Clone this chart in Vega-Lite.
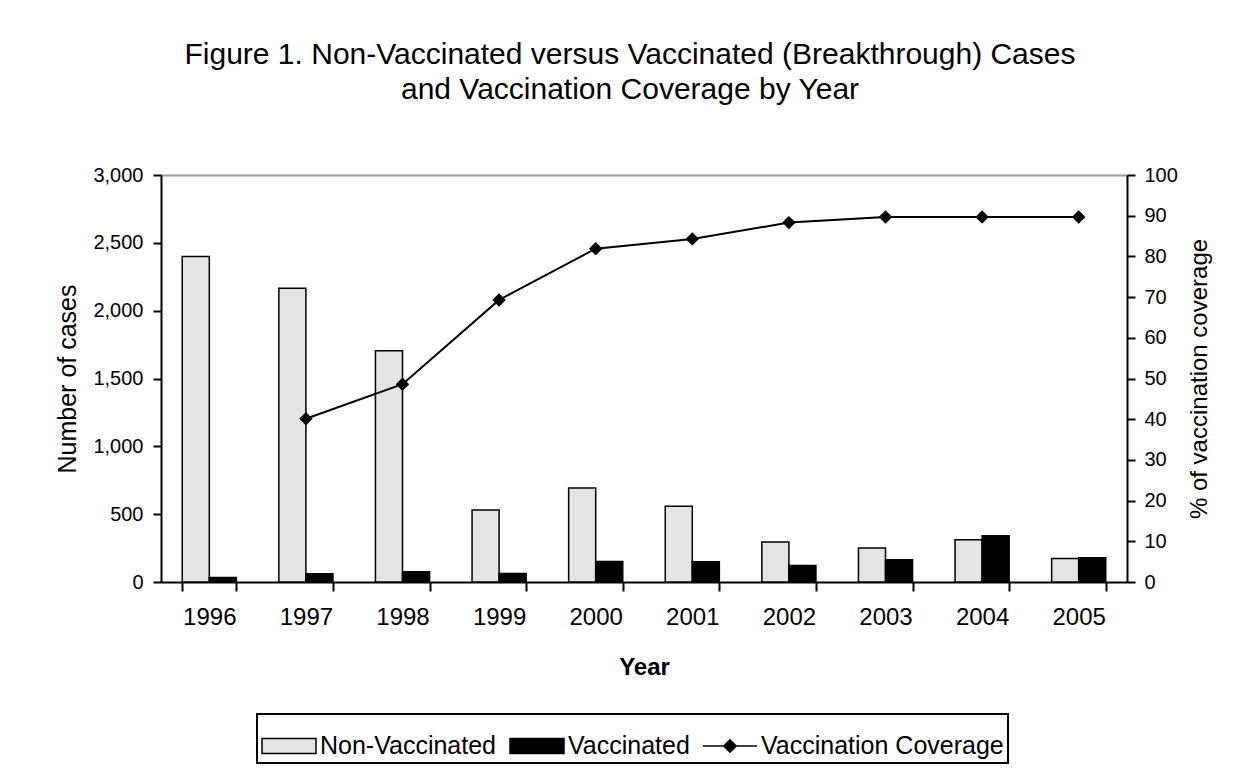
{
  "$schema": "https://vega.github.io/schema/vega-lite/v6.json",
  "width": 966,
  "height": 407,
  "autosize": "none",
  "padding": {"left": 161, "top": 175, "right": 129, "bottom": 191},
  "background": "white",
  "config": {
    "font": "Liberation Sans",
    "view": {"stroke": null},
    "legend": {"strokeColor": "black", "strokeWidth": 2}
  },
  "title": {
    "text": ["Figure 1. Non-Vaccinated versus Vaccinated (Breakthrough) Cases", "and Vaccination Coverage by Year"],
    "font": "Liberation Sans",
    "fontSize": 30,
    "fontWeight": "normal",
    "color": "black",
    "anchor": "middle",
    "dx": -14,
    "offset": 60,
    "lineHeight": 35
  },
  "datasets": {
    "bars": [
      {"year": "1996", "series": "Non-Vaccinated", "cases": 2400},
      {"year": "1996", "series": "Vaccinated", "cases": 33},
      {"year": "1997", "series": "Non-Vaccinated", "cases": 2165},
      {"year": "1997", "series": "Vaccinated", "cases": 61},
      {"year": "1998", "series": "Non-Vaccinated", "cases": 1705},
      {"year": "1998", "series": "Vaccinated", "cases": 76},
      {"year": "1999", "series": "Non-Vaccinated", "cases": 530},
      {"year": "1999", "series": "Vaccinated", "cases": 63},
      {"year": "2000", "series": "Non-Vaccinated", "cases": 692},
      {"year": "2000", "series": "Vaccinated", "cases": 152},
      {"year": "2001", "series": "Non-Vaccinated", "cases": 559},
      {"year": "2001", "series": "Vaccinated", "cases": 150},
      {"year": "2002", "series": "Non-Vaccinated", "cases": 294},
      {"year": "2002", "series": "Vaccinated", "cases": 122},
      {"year": "2003", "series": "Non-Vaccinated", "cases": 250},
      {"year": "2003", "series": "Vaccinated", "cases": 164},
      {"year": "2004", "series": "Non-Vaccinated", "cases": 311},
      {"year": "2004", "series": "Vaccinated", "cases": 341},
      {"year": "2005", "series": "Non-Vaccinated", "cases": 174},
      {"year": "2005", "series": "Vaccinated", "cases": 179}
    ],
    "coverage": [
      {"year": "1997", "coverage": 40.1},
      {"year": "1998", "coverage": 48.6},
      {"year": "1999", "coverage": 69.3},
      {"year": "2000", "coverage": 81.9},
      {"year": "2001", "coverage": 84.3},
      {"year": "2002", "coverage": 88.3},
      {"year": "2003", "coverage": 89.7},
      {"year": "2004", "coverage": 89.7},
      {"year": "2005", "coverage": 89.7}
    ]
  },
  "layer": [
    {
      "data": {"name": "bars"},
      "mark": {"type": "bar", "stroke": "black", "strokeWidth": 1.5},
      "encoding": {
        "x": {
          "field": "year",
          "type": "ordinal",
          "scale": {"domain": ["1996","1997","1998","1999","2000","2001","2002","2003","2004","2005"], "paddingInner": 0.44, "paddingOuter": 0.22},
          "axis": {
            "title": "Year",
            "titleFontSize": 24,
            "titleFontWeight": "bold",
            "titleColor": "black",
            "titlePadding": 26,
            "labelAngle": 0,
            "labelFontSize": 24,
            "labelColor": "black",
            "labelPadding": 14,
            "domainColor": "black",
            "domainWidth": 2,
            "tickColor": "black",
            "tickWidth": 2,
            "tickSize": 9,
            "tickBand": "extent"
          }
        },
        "xOffset": {"field": "series", "scale": {"domain": ["Non-Vaccinated", "Vaccinated"], "paddingInner": 0, "paddingOuter": 0}},
        "y": {
          "field": "cases",
          "type": "quantitative",
          "scale": {"domain": [0, 3000], "nice": false},
          "axis": {
            "title": "Number of cases",
            "titleFontSize": 25,
            "titleFontWeight": "normal",
            "titleColor": "black",
            "titlePadding": 12,
            "values": [0, 500, 1000, 1500, 2000, 2500, 3000],
            "format": ",.0f",
            "labelFontSize": 20,
            "labelColor": "black",
            "labelPadding": 10,
            "domainColor": "black",
            "domainWidth": 2,
            "tickColor": "black",
            "tickWidth": 2,
            "tickSize": 8,
            "grid": true,
            "gridColor": "#9a9a9a",
            "gridWidth": 2,
            "gridOpacity": {"condition": {"test": "datum.value == 3000", "value": 1}, "value": 0}
          }
        },
        "color": {
          "field": "series",
          "type": "nominal",
          "scale": {"domain": ["Non-Vaccinated", "Vaccinated", "Vaccination Coverage"], "range": ["#e4e4e4", "#000000", "#000000"]},
          "legend": {
            "title": null,
            "orient": "none",
            "direction": "horizontal",
            "legendX": 96,
            "legendY": 539,
            "labelFontSize": 25,
            "labelColor": "black",
            "labelLimit": 500,
            "labelOffset": 3,
            "columnPadding": 10,
            "padding": 4,
            "symbolSize": 2916,
            "symbolStrokeColor": "black",
            "symbolStrokeWidth": 1.5,
            "symbolOpacity": 1,
            "encode": {
              "symbols": {
                "update": {
                  "shape": {"signal": "datum.value === 'Vaccination Coverage' ? 'M-1,0H1M-0.23,0L0,-0.23L0.23,0L0,0.23Z' : 'M-1,-0.28H1V0.28H-1Z'"}
                }
              }
            }
          }
        }
      }
    },
    {
      "data": {"name": "coverage"},
      "mark": {"type": "line", "color": "black", "strokeWidth": 2, "point": {"shape": "diamond", "filled": true, "size": 180, "color": "black", "opacity": 1}},
      "encoding": {
        "x": {"field": "year", "type": "ordinal"},
        "y": {
          "field": "coverage",
          "type": "quantitative",
          "scale": {"domain": [0, 100], "nice": false},
          "axis": {
            "orient": "right",
            "title": "% of vaccination coverage",
            "titleAngle": -90,
            "titleFontSize": 24,
            "titleFontWeight": "normal",
            "titleColor": "black",
            "titlePadding": 34,
            "values": [0, 10, 20, 30, 40, 50, 60, 70, 80, 90, 100],
            "labelFontSize": 20,
            "labelColor": "black",
            "labelPadding": 9,
            "domainColor": "black",
            "domainWidth": 2,
            "tickColor": "black",
            "tickWidth": 2,
            "tickSize": 8,
            "grid": false
          }
        }
      }
    }
  ],
  "resolve": {"scale": {"y": "independent"}}
}
